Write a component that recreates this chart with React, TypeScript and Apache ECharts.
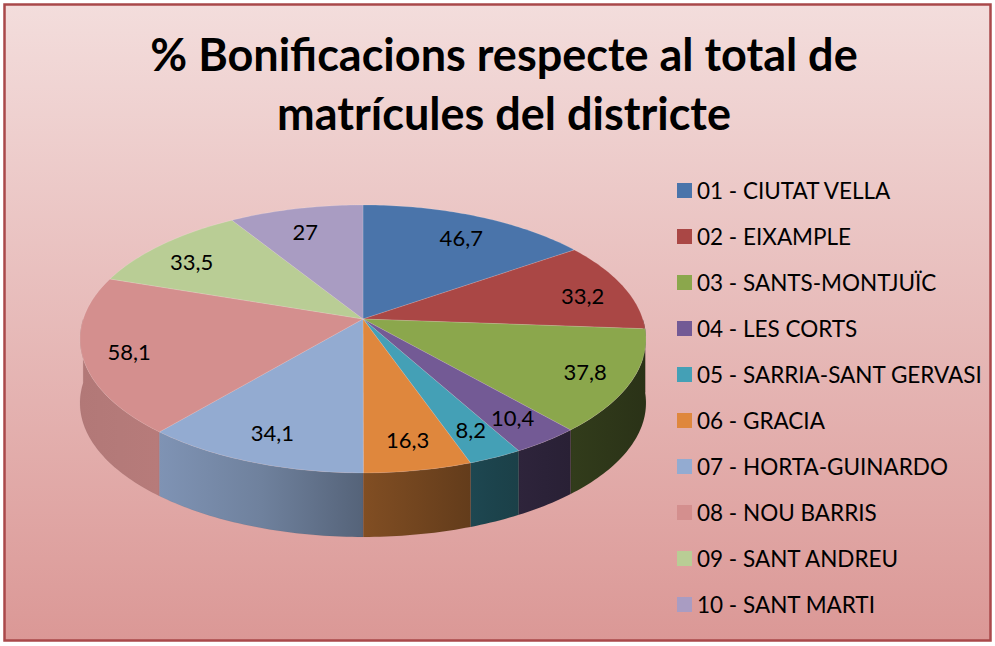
import React, { useEffect, useRef } from 'react';
import * as echarts from 'echarts';

const districts = [
  '01 - CIUTAT VELLA',
  '02 - EIXAMPLE',
  '03 - SANTS-MONTJUÏC',
  '04 - LES CORTS',
  '05 - SARRIA-SANT GERVASI',
  '06 - GRACIA',
  '07 - HORTA-GUINARDO',
  '08 - NOU BARRIS',
  '09 - SANT ANDREU',
  '10 - SANT MARTI',
];
const bonusPct = [46.7, 33.2, 37.8, 10.4, 8.2, 16.3, 34.1, 58.1, 33.5, 27];
const sliceColors = [
  '#4A74AA', '#AA4745', '#8BA74C', '#735A95', '#44A0B6',
  '#DF873D', '#93ABD1', '#D48F8E', '#B9CD95', '#A99CC2',
];
const titleLines = ['% Bonificacions respecte al total de', 'matrícules del districte'];

// pie geometry (perspective ellipse)
const CX = 363;
const CY = 319;
const AX = 279.8;
const BY = 131;
const PERSP = 0.149;
const DEPTH = 64;
const LABEL_R = 0.8;
const LABEL_XSTRETCH = 1.05;
const LABEL_DY = 3;
const FONT = 'Lato, "Open Sans", sans-serif';

function proj(theta: number, r = 1): [number, number] {
  const u = r * Math.sin(theta);
  const v = -r * Math.cos(theta);
  const w = 1 - PERSP * v;
  return [CX + (AX * u) / w, CY + (BY * v) / w];
}

function hexToRgb(h: string): number[] {
  const n = parseInt(h.slice(1), 16);
  return [(n >> 16) & 255, (n >> 8) & 255, n & 255];
}
function shadeColor(h: string, f: number): string {
  const [r, g, b] = hexToRgb(h);
  return `rgb(${Math.round(r * f)},${Math.round(g * f)},${Math.round(b * f)})`;
}
const shadePts: [number, number][] = [[-1, 0.84], [-0.6, 0.87], [0, 0.58], [0.45, 0.42], [1, 0.3]];
function shadeAt(x: number): number {
  const xn = Math.max(-1, Math.min(1, (x - CX) / 283));
  for (let i = 0; i < shadePts.length - 1; i++) {
    const [x0, f0] = shadePts[i];
    const [x1, f1] = shadePts[i + 1];
    if (xn >= x0 && xn <= x1) return f0 + ((f1 - f0) * (xn - x0)) / (x1 - x0);
  }
  return 0.5;
}

const total = bonusPct.reduce((a, b) => a + b, 0);
const starts: number[] = [];
{
  let acc = 0;
  for (const v of bonusPct) {
    starts.push((acc / total) * Math.PI * 2);
    acc += v;
  }
}

function renderItem(params: any, api: any) {
  const i = params.dataIndex;
  const val = api.value(0);
  const a0 = starts[i];
  const a1 = a0 + (val / total) * Math.PI * 2;
  const color = sliceColors[i];
  const children: any[] = [];

  // top face
  const topPts: number[][] = [[CX, CY]];
  const steps = Math.max(4, Math.ceil(((a1 - a0) * 180) / Math.PI));
  for (let k = 0; k <= steps; k++) {
    topPts.push(proj(a0 + ((a1 - a0) * k) / steps));
  }
  children.push({
    type: 'polygon',
    z2: 10,
    shape: { points: topPts },
    style: { fill: color, stroke: 'rgba(255,255,255,0.25)', lineWidth: 0.6 },
  });

  // side (front half only)
  const s0 = Math.max(a0, Math.PI / 2);
  const s1 = Math.min(a1, (Math.PI * 3) / 2);
  if (s1 > s0) {
    const n = Math.max(4, Math.ceil(((s1 - s0) * 180) / Math.PI));
    const upper: number[][] = [];
    for (let k = 0; k <= n; k++) upper.push(proj(s0 + ((s1 - s0) * k) / n));
    const lower = upper.map((p) => [p[0], p[1] + DEPTH]).reverse();
    const xs = upper.map((p) => p[0]);
    const xmin = Math.min(...xs);
    const xmax = Math.max(...xs);
    const fill = new echarts.graphic.LinearGradient(
      xmin, 0, xmax + 0.01, 0,
      [
        { offset: 0, color: shadeColor(color, shadeAt(xmin)) },
        { offset: 0.5, color: shadeColor(color, shadeAt((xmin + xmax) / 2)) },
        { offset: 1, color: shadeColor(color, shadeAt(xmax)) },
      ],
      true
    );
    const midV = -Math.cos((s0 + s1) / 2);
    children.push({
      type: 'polygon',
      z2: 1 + midV,
      shape: { points: upper.concat(lower) },
      style: { fill, stroke: 'rgba(0,0,0,0.08)', lineWidth: 0.5 },
    });
  }

  // label
  const [lx, ly] = proj((a0 + a1) / 2, LABEL_R);
  children.push({
    type: 'text',
    z2: 30,
    x: CX + (lx - CX) * LABEL_XSTRETCH,
    y: ly + LABEL_DY,
    style: {
      text: String(val).replace('.', ','),
      fill: '#000',
      fontSize: 22,
      fontFamily: FONT,
      align: 'center',
      verticalAlign: 'middle',
    },
  });

  return { type: 'group', children };
}

export default function App() {
  const ref = useRef<HTMLDivElement>(null);
  useEffect(() => {
    if (!ref.current) return;
    const chart = echarts.init(ref.current, null, { renderer: 'svg' });
    chart.setOption({
      animation: false,
      backgroundColor: '#ffffff',
      graphic: [
        {
          type: 'rect',
          z: -10,
          shape: { x: 4.5, y: 4.5, width: 986, height: 636 },
          style: {
            fill: new echarts.graphic.LinearGradient(0, 0, 0, 1, [
              { offset: 0, color: '#F3DDDC' },
              { offset: 1, color: '#DB9896' },
            ]),
            stroke: '#A9484A',
            lineWidth: 2.5,
          },
        },
        {
          type: 'text',
          x: 504,
          y: 54,
          style: {
            text: titleLines[0],
            fill: '#000',
            fontSize: 45,
            fontWeight: 'bold',
            fontFamily: FONT,
            align: 'center',
            verticalAlign: 'middle',
          },
        },
        {
          type: 'text',
          x: 504,
          y: 113,
          style: {
            text: titleLines[1],
            fill: '#000',
            fontSize: 45,
            fontWeight: 'bold',
            fontFamily: FONT,
            align: 'center',
            verticalAlign: 'middle',
          },
        },
      ],
      legend: {
        orient: 'vertical',
        left: 677,
        top: 179,
        padding: 0,
        itemWidth: 15,
        itemHeight: 15,
        itemGap: 23,
        icon: 'rect',
        selectedMode: false,
        textStyle: { fontSize: 22.5, fontFamily: FONT, color: '#000' },
        data: districts,
      },
      series: [
        {
          type: 'pie',
          name: 'legend',
          silent: true,
          center: [-200, -200],
          radius: [0, 0],
          label: { show: false },
          labelLine: { show: false },
          data: districts.map((n, i) => ({ name: n, value: bonusPct[i], itemStyle: { color: sliceColors[i] } })),
        },
        {
          type: 'custom',
          name: 'pie3d',
          coordinateSystem: 'none',
          silent: true,
          renderItem,
          data: bonusPct.map((v, i) => ({ name: districts[i], value: [v] })),
        },
      ],
    });
    return () => chart.dispose();
  }, []);
  return <div ref={ref} style={{ position: 'absolute', left: 0, top: 0, width: 995, height: 646 }} />;
}
